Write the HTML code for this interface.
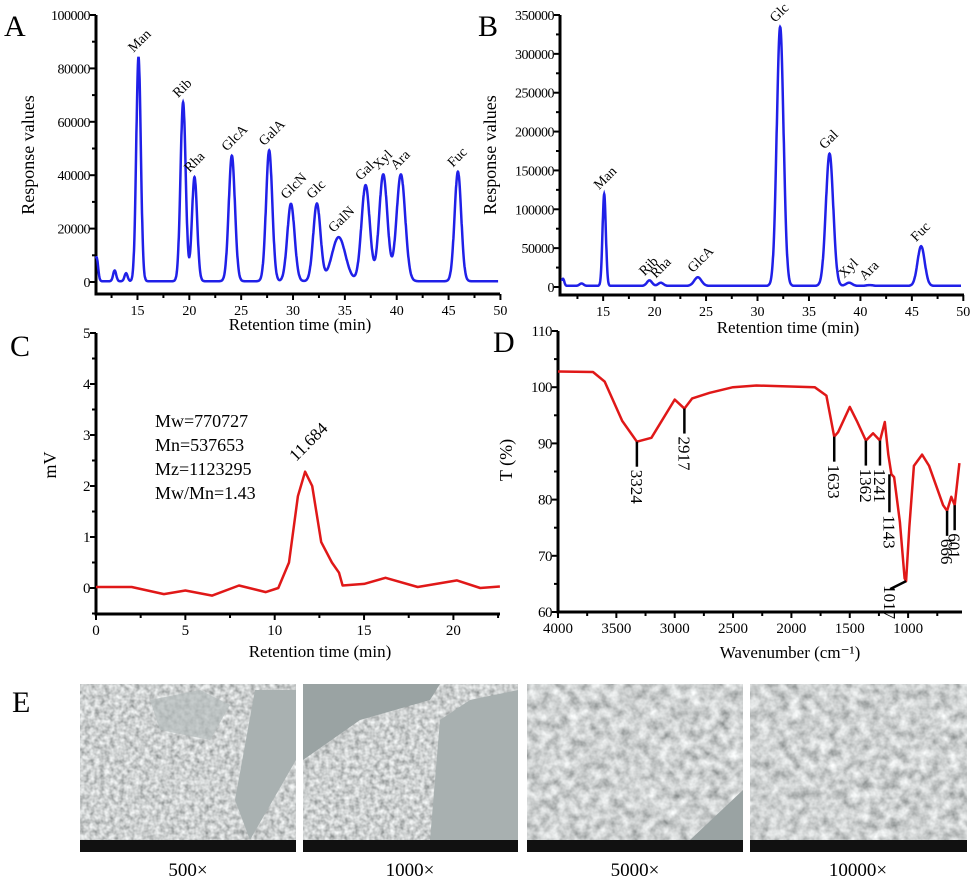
<!DOCTYPE html>
<html><head><meta charset="utf-8">
<style>
body{margin:0;background:#fff;}
svg{display:block;font-family:"Liberation Serif",serif;}
</style></head>
<body>
<svg id="fig" width="979" height="877" viewBox="0 0 979 877" xmlns="http://www.w3.org/2000/svg">
<defs>
<filter id="semA" x="0" y="0" width="100%" height="100%"><feTurbulence type="fractalNoise" baseFrequency="0.2" numOctaves="2" seed="3"/><feColorMatrix type="matrix" values="0.9 0 0 0 0.16  0.9 0 0 0 0.18  0.9 0 0 0 0.18  0 0 0 0 1"/></filter>
<filter id="semB" x="0" y="0" width="100%" height="100%"><feTurbulence type="fractalNoise" baseFrequency="0.1" numOctaves="3" seed="7"/><feColorMatrix type="matrix" values="0.9 0 0 0 0.17  0.9 0 0 0 0.19  0.9 0 0 0 0.19  0 0 0 0 1"/></filter>
</defs>
<g id="gA"></g>
<g id="gB"></g>
<g id="gC"></g>
<g id="gD"></g>
<g id="gE">
  <text x="12" y="712" font-size="30">E</text>
  <g>
    <rect x="80" y="684" width="216" height="156" filter="url(#semA)"/>
    <polygon points="255,690 296,690 296,760 250,840 235,800" fill="#a9b1b1"/>
    <polygon points="150,700 200,690 230,705 210,740 160,730" fill="#b5bcbc" opacity="0.7"/>
    <rect x="80" y="840" width="216" height="12" fill="#111"/>
    <text x="188" y="876" font-size="19" text-anchor="middle">500×</text>
  </g>
  <g>
    <rect x="303" y="684" width="215" height="156" filter="url(#semA)"/>
    <polygon points="440,720 470,700 518,690 518,840 430,840" fill="#a8b0b0"/>
    <polygon points="303,684 440,684 430,700 360,720 303,760" fill="#9aa3a3"/>
    <rect x="303" y="840" width="215" height="12" fill="#111"/>
    <text x="410" y="876" font-size="19" text-anchor="middle">1000×</text>
  </g>
  <g>
    <rect x="527" y="684" width="216" height="156" filter="url(#semB)"/>
    <polygon points="690,840 743,790 743,840" fill="#9aa3a3"/>
    <rect x="527" y="840" width="216" height="12" fill="#111"/>
    <text x="635" y="876" font-size="19" text-anchor="middle">5000×</text>
  </g>
  <g>
    <rect x="750" y="684" width="217" height="156" filter="url(#semB)"/>
    <rect x="750" y="840" width="217" height="12" fill="#111"/>
    <text x="858" y="876" font-size="19" text-anchor="middle">10000×</text>
  </g>
</g>
</svg>
<script>
// ---------- Panel A data ----------
const aPeakNames = ["","","","Man","Rib","Rha","GlcA","GalA","GlcN","Glc","GalN","Gal","Xyl","Ara","Fuc"];
const aPeakTimes = [11.05,12.8,13.9,15.1,19.4,20.5,24.1,27.7,29.8,32.3,34.4,37.0,38.7,40.4,45.9];
const aPeakHeights = [9000,4000,3000,84000,67000,39000,47000,49000,29000,29000,16500,36000,40000,40000,41000];
const aPeakWidths = [0.15,0.15,0.15,0.22,0.25,0.25,0.3,0.3,0.35,0.35,0.65,0.4,0.4,0.42,0.32];
const aYTicks = [0,20000,40000,60000,80000,100000];
const aXTicks = [15,20,25,30,35,40,45,50];
// ---------- Panel B data ----------
const bPeakNames = ["","","Man","Rib","Rha","GlcA","Glc","Gal","Xyl","Ara","Fuc"];
const bPeakTimes = [11.1,12.9,15.1,19.5,20.6,24.2,32.2,37.0,38.9,40.9,45.9];
const bPeakHeights = [9000,3000,118000,7000,4000,11000,333000,170000,4000,1000,51000];
const bPeakWidths = [0.12,0.2,0.16,0.25,0.25,0.35,0.33,0.36,0.3,0.3,0.35];
const bYTicks = [0,50000,100000,150000,200000,250000,300000,350000];
const bXTicks = [15,20,25,30,35,40,45,50];
// ---------- Panel C data ----------
const cTimes = [0,2,3.8,5,6.5,8,9.5,10.2,10.8,11.3,11.7,12.1,12.6,13.2,13.6,13.8,15,16.2,18,20.2,21.5,22.6];
const cValues = [0.02,0.02,-0.12,-0.05,-0.15,0.05,-0.08,0.0,0.5,1.8,2.28,2.0,0.9,0.5,0.3,0.05,0.08,0.2,0.02,0.15,0.0,0.03];
const cYTicks = [0,1,2,3,4,5];
const cXTicks = [0,5,10,15,20];
// ---------- Panel D data ----------
const dWaves = [4000,3700,3600,3450,3324,3200,3000,2917,2850,2700,2500,2300,1800,1700,1633,1600,1500,1440,1362,1300,1241,1200,1170,1143,1120,1070,1030,1017,990,950,880,820,760,700,666,630,601,560];
const dTrans = [102.8,102.7,101,94,90.3,91,97.8,96.2,98,99,100,100.3,100,98.5,91.2,92,96.5,94,90.5,91.8,90.5,93.8,88,84.5,84,76,66,65.5,75,86,88,86,82.5,79,78,80.5,79,86.5];
const dPeakLabels = [3324,2917,1633,1362,1241,1143,1017,666,601];
const dPeakT = [90.3,96.2,91.2,90.5,90.5,84.5,65.5,78,79];
const dYTicks = [60,70,80,90,100,110];
const dXTicks = [4000,3500,3000,2500,2000,1500,1000];

const NS="http://www.w3.org/2000/svg";
function mk(parent,tag,attrs,text){const e=document.createElementNS(NS,tag);for(const k in attrs)e.setAttribute(k,attrs[k]);if(text!==undefined)e.textContent=text;parent.appendChild(e);return e;}

function axes(g,o){
  const a=mk(g,'line',{x1:o.x0,y1:o.yTop,x2:o.x0,y2:o.yAxis,stroke:'#000','stroke-width':3});
  
  
  const b=mk(g,'line',{x1:o.x0-1.5,y1:o.yAxis,x2:o.x1,y2:o.yAxis,stroke:'#000','stroke-width':3});
  
  
  o.yTicks.forEach(v=>{const y=o.ys(v);
    mk(g,'line',{x1:o.x0-6,y1:y,x2:o.x0,y2:y,stroke:'#000','stroke-width':2});
    const t=mk(g,'text',{x:o.x0-6,y:y+5,'font-size':o.fs||14,'text-anchor':'end','letter-spacing':'-0.5'},v);
    
    
  });
  (o.minorY||[]).forEach(v=>{const y=o.ys(v);mk(g,'line',{x1:o.x0-4,y1:y,x2:o.x0,y2:y,stroke:'#000','stroke-width':2});});
  o.xTicks.forEach(v=>{const x=o.xs(v);
    mk(g,'line',{x1:x,y1:o.yAxis,x2:x,y2:o.yAxis+6,stroke:'#000','stroke-width':2});
    const t=mk(g,'text',{x:x,y:o.yAxis+21,'font-size':o.fs||14,'text-anchor':'middle'},v);
    
    
  });
  (o.minorX||[]).forEach(v=>{const x=o.xs(v);mk(g,'line',{x1:x,y1:o.yAxis,x2:x,y2:o.yAxis+4,stroke:'#000','stroke-width':2});});
  const xt=mk(g,'text',{x:o.xtX,y:o.xtY,'font-size':17,'text-anchor':'middle'},o.xt);
  
  
  const yt=mk(g,'text',{x:o.ytX,y:o.ytY,'font-size':18,'text-anchor':'middle',transform:`rotate(-90 ${o.ytX} ${o.ytY})`},o.yt);
  
  
}
function chrom(times,heights,widths,base,t){let v=base;for(let i=0;i<times.length;i++){v+=heights[i]*Math.exp(-0.5*Math.pow((t-times[i])/widths[i],2));}return v;}
function chromPanel(g,names,times,heights,widths,base,xs,ys,tmin,tmax,name){
  let d='';for(let t=tmin;t<=tmax;t+=0.02){const v=chrom(times,heights,widths,base,t);d+=(d?'L':'M')+xs(t).toFixed(1)+','+ys(v).toFixed(1);}
  const p=mk(g,'path',{d:d,fill:'none',stroke:'#2020e8','stroke-width':2.5});
  
  
  names.forEach((n,i)=>{if(!n)return;const x=xs(times[i])-5,y=ys(chrom(times,heights,widths,base,times[i]))-4;
    const t=mk(g,'text',{x:x,y:y,'font-size':14,transform:`rotate(-45 ${x} ${y})`},n);
    
    });
}

// Panel A
(function(){const g=document.getElementById('gA');
  const xs=t=>96+(t-11)*10.37, ys=v=>282-v/100000*267;
  mk(g,'text',{x:4,y:36,'font-size':30},'A');
  axes(g,{x0:96,x1:500,yTop:15,yAxis:294,xs,ys,xTicks:aXTicks,yTicks:aYTicks,xt:'Retention time (min)',xtX:300,xtY:330,yt:'Response values',ytX:34,ytY:155,fs:14,
    minorY:[10000,30000,50000,70000,90000],minorX:[12.5,17.5,22.5,27.5,32.5,37.5,42.5,47.5]});
  chromPanel(g,aPeakNames,aPeakTimes,aPeakHeights,aPeakWidths,300,xs,ys,11,49.8,'chromatogram-a');
})();
// Panel B
(function(){const g=document.getElementById('gB');
  const xs=t=>562+(t-11)*10.29, ys=v=>287-v/350000*272;
  mk(g,'text',{x:478,y:36,'font-size':30},'B');
  axes(g,{x0:560,x1:964,yTop:15,yAxis:295,xs,ys,xTicks:bXTicks,yTicks:bYTicks,xt:'Retention time (min)',xtX:788,xtY:333,yt:'Response values',ytX:496,ytY:155,fs:14,
    minorY:[25000,75000,125000,175000,225000,275000,325000],minorX:[12.5,17.5,22.5,27.5,32.5,37.5,42.5,47.5]});
  chromPanel(g,bPeakNames,bPeakTimes,bPeakHeights,bPeakWidths,1500,xs,ys,11,49.8,'chromatogram-b');
})();
// Panel C
(function(){const g=document.getElementById('gC');
  const xs=t=>96+t*17.87, ys=v=>588-v*51;
  mk(g,'text',{x:10,y:356,'font-size':30},'C');
  axes(g,{x0:96,x1:500,yTop:333,yAxis:614,xs,ys,xTicks:cXTicks,yTicks:cYTicks,xt:'Retention time (min)',xtX:320,xtY:657,yt:'mV',ytX:56,ytY:465,fs:15,
    minorY:[-0.5,0.5,1.5,2.5,3.5,4.5],minorX:[2.5,7.5,12.5,17.5,22.5]});
  let d='';cTimes.forEach((t,i)=>{d+=(i?'L':'M')+xs(t).toFixed(1)+','+ys(cValues[i]).toFixed(1);});
  const p=mk(g,'path',{d:d,fill:'none',stroke:'#e01818','stroke-width':2.5,'stroke-linejoin':'round'});
  
  
  ['Mw=770727','Mn=537653','Mz=1123295','Mw/Mn=1.43'].forEach((s,i)=>{const t=mk(g,'text',{x:155,y:427+i*24,'font-size':18},s);
    
    });
  const lt=mk(g,'text',{x:296,y:462,'font-size':17,transform:'rotate(-45 296 462)'},'11.684');
  
  
})();
// Panel D
(function(){const g=document.getElementById('gD');
  const xs=w=>558+(4000-w)*0.1167, ys=T=>612-(T-60)*5.62;
  mk(g,'text',{x:493,y:352,'font-size':30},'D');
  axes(g,{x0:558,x1:962,yTop:331,yAxis:612,xs,ys,xTicks:dXTicks,yTicks:dYTicks,xt:'Wavenumber (cm⁻¹)',xtX:790,xtY:658,yt:'T (%)',ytX:512,ytY:460,fs:15,
    minorY:[65,75,85,95,105],minorX:[3750,3250,2750,2250,1750,1250,750]});
  let d='';dWaves.forEach((w,i)=>{d+=(i?'L':'M')+xs(w).toFixed(1)+','+ys(dTrans[i]).toFixed(1);});
  const p=mk(g,'path',{d:d,fill:'none',stroke:'#e01818','stroke-width':2.5,'stroke-linejoin':'round'});
  
  
  dPeakLabels.forEach((w,i)=>{const x=xs(w),y=ys(dPeakT[i]);
    if(w===1017){mk(g,'line',{x1:x,y1:y,x2:x-16,y2:y+8,stroke:'#000','stroke-width':2.5});
      const t=mk(g,'text',{x:x-22,y:y+4,'font-size':17,transform:`rotate(90 ${x-22} ${y+4})`},w);
      
      return;}
    const len=(w===1143)?38:25;
    const lx=(w===1143)?x-2:x;
    mk(g,'line',{x1:lx,y1:y,x2:lx,y2:y+len,stroke:'#000','stroke-width':2.5});
    const t=mk(g,'text',{x:lx-6,y:y+len+3,'font-size':17,transform:`rotate(90 ${lx-6} ${y+len+3})`},w);
    
    
  });
})();
</script>
</body></html>
